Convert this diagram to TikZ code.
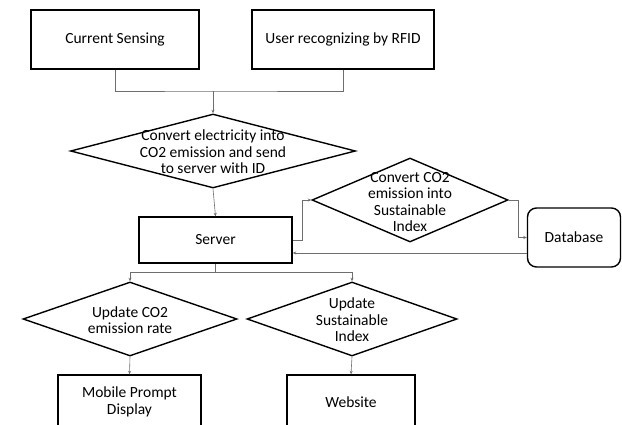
\documentclass[tikz,border=0pt]{standalone}
\usepackage{fontspec}
\setmainfont{Carlito}
\usepackage{tikz}
\usetikzlibrary{arrows.meta,positioning,shapes.geometric}
\definecolor{LinkCol}{HTML}{6E6E6E}

\begin{document}
\begin{tikzpicture}[x=1pt, y=-1pt,
  every node/.style={font=\fontsize{15.5}{16.5}\selectfont, align=center},
  procbox/.style={draw, line width=1.4pt, rectangle, inner sep=0pt},
  storebox/.style={draw, line width=1.4pt, rectangle, rounded corners=9pt, inner sep=0pt},
  decide/.style={draw, line width=1.4pt, diamond, inner sep=0pt},
  link/.style={draw=LinkCol, line width=0.6pt},
  arr/.style={link, -{Stealth[length=3.5pt, width=3pt]}}]
  \clip (0,0) rectangle (622,425);
  % Input boxes
  \node[procbox, minimum width=168, minimum height=59] (cs) at (115,39.5) {Current Sensing};
  \node[procbox, minimum width=182, minimum height=59] (rfid) at (343,39.5) {User recognizing by RFID};
  % Conversion step
  \node[decide, minimum width=285, minimum height=74] (conv) at (213,151) {};
  \node (convtxt) at (213,152) {Convert electricity into\\CO2 emission and send\\to server with ID};
  % Server and the index loop
  \node[procbox, minimum width=153, minimum height=46] (server) at (215.5,240) {Server};
  \node[decide, minimum width=196, minimum height=84] (index) at (410,200) {};
  \node (indextxt) at (410,202) {Convert CO2\\emission into\\Sustainable\\Index};
  \node[storebox, minimum width=93, minimum height=59] (db) at (574,237.5) {Database};
  % Updates
  \node[decide, minimum width=214, minimum height=74] (upco) at (130,319) {};
  \node (upcotxt) at (130,320) {Update CO2\\emission rate};
  \node[decide, minimum width=210, minimum height=74] (upsi) at (352,319) {};
  \node (upsitxt) at (352,320) {Update\\Sustainable\\Index};
  % Outputs (cut off at the bottom)
  \node[procbox, minimum width=143, minimum height=54] (mobile) at (129.5,402) {Mobile Prompt\\Display};
  \node[procbox, minimum width=128, minimum height=54] (web) at (351,402) {Website};
  % Connectors
  \coordinate (join) at (213,91);
  \coordinate (split) at (215.5,272);
  \coordinate (dbback) at (527,253);
  \draw[link] (cs.south) |- (join) -| (rfid.south);
  \draw[arr] (join) -- (conv.north);
  \draw[arr] (conv.south) -- (server.north);
  \draw[arr] (server.east) -- ++(10,0) |- (index.west);
  \draw[arr] (index.east) -- ++(10,0) |- (db.west);
  \draw[arr] (dbback) -- (dbback -| server.east);
  \draw[link] (server.south) -- (split);
  \draw[arr] (split) -| (upco.north);
  \draw[arr] (split) -| (upsi.north);
  \draw[arr] (upco.south) -- (mobile.north);
  \draw[arr] (upsi.south) -- (web.north);
\end{tikzpicture}
\end{document}
